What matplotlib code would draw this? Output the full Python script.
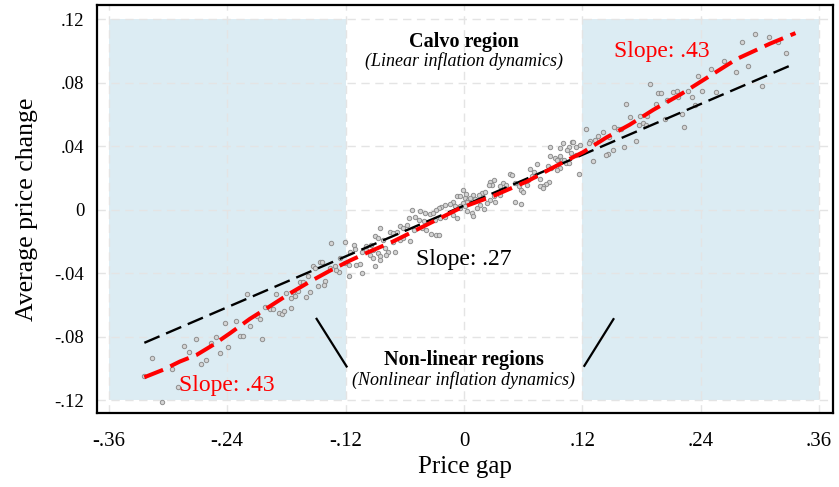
import matplotlib
matplotlib.use("Agg")
import matplotlib.pyplot as plt
from matplotlib.patches import Rectangle

plt.rcParams["font.family"] = "serif"
plt.rcParams["font.serif"] = ["Liberation Serif", "DejaVu Serif"]

# axis ticks
xticks = [-0.36, -0.24, -0.12, 0, 0.12, 0.24, 0.36]
xtick_labels = ["-.36", "-.24", "-.12", "0", ".12", ".24", ".36"]
yticks = [-0.12, -0.08, -0.04, 0, 0.04, 0.08, 0.12]
ytick_labels = ["-.12", "-.08", "-.04", "0", ".04", ".08", ".12"]

# binned scatter: price gap vs average price change
gap = [
    -0.220, -0.242, -0.231, -0.217, -0.227, -0.224, -0.272, -0.251, -0.284, -0.279,
    -0.256, -0.239, -0.247, -0.316, -0.261, -0.267, -0.296, -0.324, -0.290, -0.306,
    -0.135, -0.121, -0.111, -0.110, -0.116, -0.099, -0.103, -0.146, -0.144, -0.126,
    -0.121, -0.117, -0.109, -0.105, -0.153, -0.151, -0.136, -0.131, -0.127, -0.130,
    -0.117, -0.103, -0.158, -0.166, -0.163, -0.148, -0.141, -0.142, -0.168, -0.156,
    -0.160, -0.191, -0.173, -0.175, -0.202, -0.197, -0.194, -0.175, -0.188, -0.184,
    -0.182, -0.210, -0.207, -0.180, -0.171, -0.205,
    -0.001, -0.007, -0.004, 0.001, 0.004, 0.002, -0.011, -0.014, -0.009, -0.004,
    -0.019, -0.023, -0.025, -0.028, -0.053, -0.045, -0.040, -0.034, -0.031, -0.056,
    -0.050, -0.046, -0.041, -0.036, -0.029, -0.024, -0.019, -0.007, -0.011, -0.065,
    -0.062, -0.058, -0.051, -0.043, -0.038, -0.033, -0.028, -0.025, -0.085, -0.075,
    -0.072, -0.068, -0.090, -0.087, -0.082, -0.072, -0.065, -0.062, -0.055, -0.099,
    -0.094, -0.092, -0.087, -0.080, -0.077, -0.070, -0.095, -0.085, -0.079, -0.090,
    -0.092, -0.085,
    0.087, 0.100, 0.106, 0.087, 0.092, 0.097, 0.094, 0.099, 0.103, 0.074,
    0.085, 0.088, 0.097, 0.094, 0.067, 0.071, 0.047, 0.049, 0.069, 0.072,
    0.077, 0.086, 0.083, 0.080, 0.077, 0.080, 0.030, 0.026, 0.028, 0.025,
    0.040, 0.043, 0.037, 0.052, 0.056, 0.058, 0.060, 0.064, 0.065, 0.018,
    0.021, 0.015, 0.019, 0.033, 0.037, 0.030, 0.009, 0.011, 0.006, 0.003,
    0.026, 0.031, 0.023, 0.052, 0.058, -0.001, -0.004, 0.001, 0.016, 0.013,
    0.020, 0.003, 0.008, 0.009,
    0.189, 0.197, 0.200, 0.212, 0.216, 0.206, 0.195, 0.164, 0.186, 0.178,
    0.168, 0.204, 0.181, 0.177, 0.184, 0.152, 0.156, 0.159, 0.124, 0.141,
    0.136, 0.133, 0.128, 0.127, 0.147, 0.174, 0.162, 0.151, 0.146, 0.144,
    0.131, 0.109, 0.111, 0.114, 0.118, 0.097, 0.104, 0.108, 0.114, 0.101,
    0.106, 0.117,
    0.295, 0.309, 0.318, 0.282, 0.326, 0.264, 0.250, 0.288, 0.276, 0.237,
    0.302, 0.227, 0.241, 0.255, 0.231, 0.217, 0.234, 0.221, 0.223,
]
dp = [
    -0.0530, -0.0714, -0.0700, -0.0735, -0.0794, -0.0798, -0.0815, -0.0804, -0.0861, -0.0893,
    -0.0840, -0.0867, -0.0903, -0.0933, -0.0945, -0.0970, -0.1004, -0.1050, -0.1115, -0.1214,
    -0.0208, -0.0200, -0.0220, -0.0248, -0.0263, -0.0252, -0.0267, -0.0326, -0.0326, -0.0305,
    -0.0336, -0.0347, -0.0347, -0.0340, -0.0353, -0.0368, -0.0368, -0.0357, -0.0393, -0.0380,
    -0.0414, -0.0401, -0.0416, -0.0458, -0.0452, -0.0479, -0.0447, -0.0474, -0.0510, -0.0515,
    -0.0552, -0.0531, -0.0515, -0.0556, -0.0615, -0.0624, -0.0626, -0.0620, -0.0651, -0.0655,
    -0.0640, -0.0672, -0.0689, -0.0525, -0.0546, -0.0815,
    0.0126, 0.0090, 0.0084, 0.0074, 0.0063, 0.0099, 0.0052, 0.0036, 0.0021, 0.0010,
    0.0032, 0.0019, 0.0010, 0.0000, 0.0000, -0.0010, -0.0020, -0.0027, -0.0020, -0.0052,
    -0.0048, -0.0063, -0.0069, -0.0074, -0.0063, -0.0052, -0.0048, -0.0052, -0.0032, -0.0105,
    -0.0115, -0.0095, -0.0126, -0.0115, -0.0126, -0.0153, -0.0158, -0.0158, -0.0115, -0.0137,
    -0.0147, -0.0140, -0.0168, -0.0178, -0.0189, -0.0200, -0.0189, -0.0178, -0.0195, -0.0230,
    -0.0220, -0.0252, -0.0273, -0.0241, -0.0263, -0.0269, -0.0284, -0.0294, -0.0284, -0.0357,
    -0.0305, -0.0315,
    0.0395, 0.0420, 0.0395, 0.0340, 0.0326, 0.0336, 0.0311, 0.0315, 0.0294, 0.0290,
    0.0277, 0.0263, 0.0263, 0.0248, 0.0256, 0.0241, 0.0225, 0.0219, 0.0214, 0.0210,
    0.0193, 0.0172, 0.0164, 0.0151, 0.0147, 0.0137, 0.0185, 0.0172, 0.0158, 0.0158,
    0.0168, 0.0158, 0.0147, 0.0168, 0.0147, 0.0126, 0.0109, 0.0158, 0.0189, 0.0105,
    0.0115, 0.0095, 0.0080, 0.0105, 0.0095, 0.0084, 0.0095, 0.0067, 0.0074, 0.0052,
    0.0063, 0.0052, 0.0042, 0.0052, 0.0036, 0.0042, 0.0021, 0.0021, 0.0032, 0.0010,
    0.0004, -0.0010, -0.0020, -0.0038,
    0.0792, 0.0735, 0.0735, 0.0745, 0.0750, 0.0693, 0.0668, 0.0666, 0.0588, 0.0588,
    0.0582, 0.0571, 0.0546, 0.0531, 0.0536, 0.0519, 0.0510, 0.0508, 0.0508, 0.0487,
    0.0462, 0.0441, 0.0435, 0.0420, 0.0460, 0.0435, 0.0393, 0.0378, 0.0351, 0.0347,
    0.0305, 0.0430, 0.0430, 0.0393, 0.0410, 0.0390, 0.0378, 0.0357, 0.0347, 0.0315,
    0.0294, 0.0225,
    0.1110, 0.1090, 0.1055, 0.1060, 0.0987, 0.0940, 0.0890, 0.0903, 0.0865, 0.0840,
    0.0780, 0.0750, 0.0748, 0.0740, 0.0710, 0.0709, 0.0662, 0.0605, 0.0520,
]

# linear fit (slope .27)
lin_gap = [-0.324, 0.335]
lin_dp = [-0.0838, 0.0920]

# non-linear fit
fit_gap = [
    -0.324, -0.305, -0.288, -0.271, -0.254, -0.237, -0.217, -0.197, -0.176, -0.156,
    -0.136, -0.116, -0.097, -0.072, -0.038, -0.004, 0.030, 0.064, 0.097, 0.121,
    0.1445, 0.168, 0.192, 0.219, 0.243, 0.2765, 0.310, 0.336,
]
fit_dp = [
    -0.1055, -0.1008, -0.0956, -0.0914, -0.0850, -0.0777, -0.0687, -0.0609, -0.0525, -0.0452,
    -0.0384, -0.0321, -0.0267, -0.0200, -0.0095, 0.0010, 0.0088, 0.0179, 0.0288, 0.0364,
    0.0456, 0.0536, 0.0630, 0.0725, 0.0819, 0.0950, 0.1046, 0.1113,
]

shade_color = "#dcecf3"

fig = plt.figure(figsize=(8.39, 4.87), dpi=100)
ax = fig.add_axes([0.1156, 0.152, 0.8772, 0.8377])

# shaded non-linear regions
ax.add_patch(Rectangle((-0.36, -0.12), 0.24, 0.24, facecolor=shade_color, edgecolor="none", zorder=0))
ax.add_patch(Rectangle((0.12, -0.12), 0.24, 0.24, facecolor=shade_color, edgecolor="none", zorder=0))

ax.set_axisbelow(True)
ax.grid(True, color="#e4e4e4", linestyle=(0, (6, 4)), linewidth=1.0)

ax.scatter(gap, dp, s=10, facecolor="#d4d4d4", edgecolor="#8e8e8e", linewidth=0.7, zorder=2)
ax.plot(lin_gap, lin_dp, color="black", linewidth=1.7, linestyle=(0, (7, 3)), zorder=3)
ax.plot(fit_gap, fit_dp, color="#ff0000", linewidth=2.9, linestyle=(0, (5, 2)), zorder=4)

# annotation text
ax.text(0, 0.106, "Calvo region", ha="center", va="center", fontsize=14.5, fontweight="bold")
ax.text(0, 0.094, "(Linear inflation dynamics)", ha="center", va="center", fontsize=13, style="italic")
ax.text(0, -0.0945, "Non-linear regions", ha="center", va="center", fontsize=14.5, fontweight="bold")
ax.text(0, -0.107, "(Nonlinear inflation dynamics)", ha="center", va="center", fontsize=13, style="italic")
ax.text(0, -0.0315, "Slope: .27", ha="center", va="center", fontsize=17)
ax.text(0.201, 0.0996, "Slope: .43", ha="center", va="center", fontsize=17, color="#ff0000")
ax.text(-0.240, -0.111, "Slope: .43", ha="center", va="center", fontsize=17, color="#ff0000")

# pointers to the shaded regions
ax.plot([-0.1494, -0.119], [-0.0687, -0.0987], color="black", linewidth=1.6, zorder=3)
ax.plot([0.1515, 0.122], [-0.0689, -0.0983], color="black", linewidth=1.6, zorder=3)

ax.set_xlim(-0.372, 0.374)
ax.set_ylim(-0.128, 0.129)
ax.set_xticks(xticks)
ax.set_xticklabels(xtick_labels, fontsize=15)
ax.set_yticks(yticks)
ax.set_yticklabels(ytick_labels, fontsize=13.5)
ax.tick_params(length=0)
ax.tick_params(axis="x", pad=14)
ax.tick_params(axis="y", pad=9)
ax.set_xlabel("Price gap", fontsize=18, labelpad=3)
ax.set_ylabel("Average price change", fontsize=18.5, labelpad=12)

for side in ax.spines.values():
    side.set_linewidth(1.6)
    side.set_color("black")

fig.savefig("out.png", dpi=100)
